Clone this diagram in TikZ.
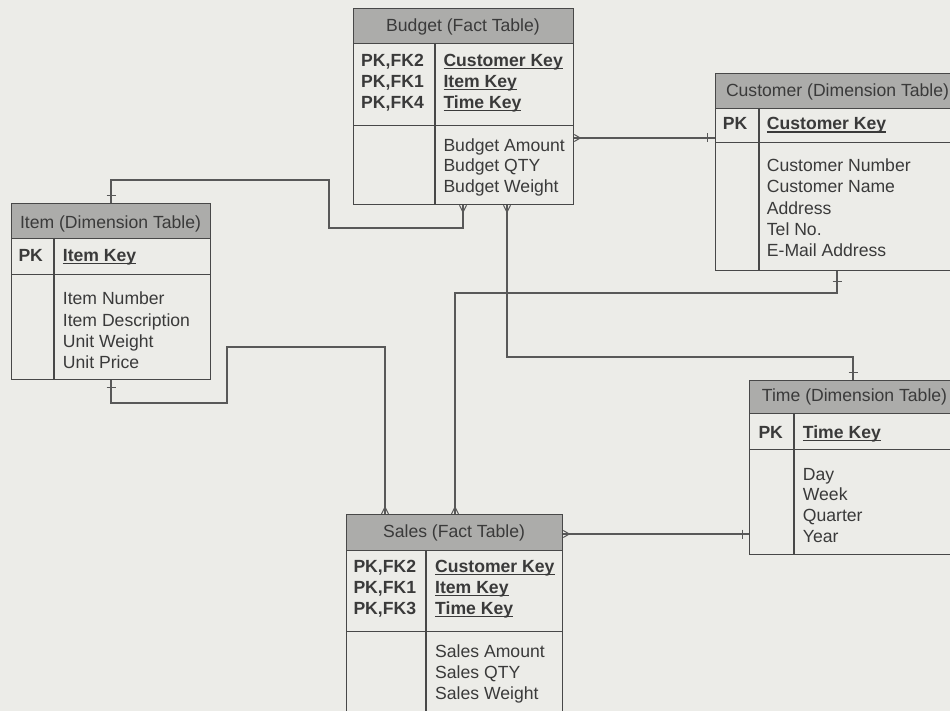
\documentclass[tikz,border=0pt]{standalone}
\usepackage{fontspec}
\setmainfont{Liberation Sans}
\usetikzlibrary{calc}
\definecolor{bgc}{RGB}{236,236,232}
\definecolor{boxc}{RGB}{72,72,72}
\definecolor{conc}{RGB}{88,88,88}
\definecolor{hdrc}{RGB}{172,172,170}
\definecolor{txtc}{RGB}{58,58,58}
\newcommand{\keyul}[1]{\setbox0\hbox{#1}\rlap{\rule[-2.6pt]{\wd0}{1.1pt}}\box0}
\newcommand{\fsz}{\fontsize{17.6pt}{21pt}\selectfont}
\begin{document}
\begin{tikzpicture}[x=1pt,y=-1pt,
  box/.style={draw=boxc, line width=1.3pt, anchor=north west, inner sep=0pt},
  hdr/.style={box, fill=hdrc},
  divline/.style={draw=boxc, line width=1.3pt},
  t/.style={anchor=base west, inner sep=0pt, text=txtc, font=\fsz},
  tb/.style={t, font=\fsz\bfseries},
  th/.style={anchor=base, inner sep=0pt, text=txtc, font=\fsz},
  conn/.style={draw=conc, line width=1.1pt},
  endmk/.style={draw=conc, line width=1pt}
]
\useasboundingbox (0,0) rectangle (950,711);
\fill[bgc] (0,0) rectangle (950,711);
\clip (0,0) rectangle (950,711);

% ---------- Budget ----------
\node[hdr, minimum width=220pt, minimum height=35pt] (bud-h) at (353,8) {};
\node[box, minimum width=220pt, minimum height=82pt] (bud-k) at (353,43) {};
\node[box, minimum width=220pt, minimum height=79pt] (bud-a) at (353,125) {};
\draw[divline] (435,43) -- (435,204);
\node[th] (bud-ht) at (463,31.5) {Budget (Fact Table)};
\node[tb] (bud-p1) at (361,66.7) {PK,FK2};
\node[tb] (bud-p2) at (361,87.7) {PK,FK1};
\node[tb] (bud-p3) at (361,108.3) {PK,FK4};
\node[tb] (bud-k1) at (443.3,66.7) {\keyul{Customer Key}};
\node[tb] (bud-k2) at (443.3,87.7) {\keyul{Item Key}};
\node[tb] (bud-k3) at (443.3,108.3) {\keyul{Time Key}};
\node[t] (bud-a1) at (443.3,151.7) {Budget Amount};
\node[t] (bud-a2) at (443.3,172) {Budget QTY};
\node[t] (bud-a3) at (443.3,192.5) {Budget Weight};

% ---------- Customer ----------
\node[hdr, minimum width=245pt, minimum height=35pt] (cus-h) at (715,73) {};
\node[box, minimum width=245pt, minimum height=34pt] (cus-p) at (715,108) {};
\node[box, minimum width=245pt, minimum height=128pt] (cus-a) at (715,142) {};
\draw[divline] (759,108) -- (759,270);
\node[th] (cus-ht) at (837.5,96.7) {Customer (Dimension Table)};
\node[tb] (cus-pk) at (722.7,130) {PK};
\node[tb] (cus-k1) at (766.7,130) {\keyul{Customer Key}};
\node[t] (cus-a1) at (766.7,171.7) {Customer Number};
\node[t] (cus-a2) at (766.7,193) {Customer Name};
\node[t] (cus-a3) at (766.7,214.3) {Address};
\node[t] (cus-a4) at (766.7,235.6) {Tel No.};
\node[t] (cus-a5) at (766.7,256.9) {E-Mail Address};

% ---------- Item ----------
\node[hdr, minimum width=199pt, minimum height=35pt] (itm-h) at (11,203) {};
\node[box, minimum width=199pt, minimum height=36pt] (itm-p) at (11,238) {};
\node[box, minimum width=199pt, minimum height=105pt] (itm-a) at (11,274) {};
\draw[divline] (54,238) -- (54,379);
\node[th] (itm-ht) at (110.5,228.3) {Item (Dimension Table)};
\node[tb] (itm-pk) at (18.3,261.7) {PK};
\node[tb] (itm-k1) at (62.7,261.7) {\keyul{Item Key}};
\node[t] (itm-a1) at (62.7,305) {Item Number};
\node[t] (itm-a2) at (62.7,326) {Item Description};
\node[t] (itm-a3) at (62.7,347) {Unit Weight};
\node[t] (itm-a4) at (62.7,368) {Unit Price};

% ---------- Time ----------
\node[hdr, minimum width=211pt, minimum height=33pt] (tim-h) at (749,380) {};
\node[box, minimum width=211pt, minimum height=36pt] (tim-p) at (749,413) {};
\node[box, minimum width=211pt, minimum height=105pt] (tim-a) at (749,449) {};
\draw[divline] (794,413) -- (794,554);
\node[th] (tim-ht) at (854.5,401.7) {Time (Dimension Table)};
\node[tb] (tim-pk) at (758.3,438.3) {PK};
\node[tb] (tim-k1) at (802.7,438.3) {\keyul{Time Key}};
\node[t] (tim-a1) at (802.7,480) {Day};
\node[t] (tim-a2) at (802.7,500.7) {Week};
\node[t] (tim-a3) at (802.7,521.3) {Quarter};
\node[t] (tim-a4) at (802.7,542) {Year};

% ---------- Sales ----------
\node[hdr, minimum width=216pt, minimum height=36pt] (sal-h) at (346,514) {};
\node[box, minimum width=216pt, minimum height=81pt] (sal-k) at (346,550) {};
\node[box, minimum width=216pt, minimum height=100pt] (sal-a) at (346,631) {};
\draw[divline] (426,550) -- (426,731);
\node[th] (sal-ht) at (454,537.3) {Sales (Fact Table)};
\node[tb] (sal-p1) at (353.3,572.7) {PK,FK2};
\node[tb] (sal-p2) at (353.3,593.3) {PK,FK1};
\node[tb] (sal-p3) at (353.3,614) {PK,FK3};
\node[tb] (sal-k1) at (435,572.7) {\keyul{Customer Key}};
\node[tb] (sal-k2) at (435,593.3) {\keyul{Item Key}};
\node[tb] (sal-k3) at (435,614) {\keyul{Time Key}};
\node[t] (sal-a1) at (435,657.3) {Sales Amount};
\node[t] (sal-a2) at (435,678.3) {Sales QTY};
\node[t] (sal-a3) at (435,699) {Sales Weight};

% ---------- Connectors ----------
% Budget -> Customer
\coordinate (c1a) at ($(bud-a.north east)+(0,13)$);
\draw[conn] (c1a) -- (c1a -| cus-p.west);
% Budget -> Item
\coordinate (c2a) at ($(bud-a.south west)+(110,0)$);
\coordinate (c2b) at ($(itm-h.north west)+(100,0)$);
\draw[conn] (c2a) |- (329,228) |- (c2b |- 0,180) -- (c2b);
% Budget -> Time
\coordinate (c3a) at ($(bud-a.south west)+(154,0)$);
\coordinate (c3b) at ($(tim-h.north west)+(104,0)$);
\draw[conn] (c3a) |- (c3b |- 0,357) -- (c3b);
% Sales -> Customer
\coordinate (c4a) at ($(sal-h.north west)+(109,0)$);
\coordinate (c4b) at ($(cus-a.south west)+(122,0)$);
\draw[conn] (c4a) |- (c4b |- 0,293) -- (c4b);
% Sales -> Item
\coordinate (c5a) at ($(sal-h.north west)+(39,0)$);
\coordinate (c5b) at ($(itm-a.south west)+(100,0)$);
\draw[conn] (c5a) |- (227,347) |- (c5b |- 0,403) -- (c5b);
% Sales -> Time
\coordinate (c6a) at ($(sal-h.north east)+(0,20)$);
\draw[conn] (c6a) -- (c6a -| tim-a.west);

% ---------- End marks ----------
\draw[endmk] ($(c1a -| cus-p.west)+(-8,-4.5)$) -- ++(0,9);
\draw[endmk] ($(c2b)+(-4.5,-7)$) -- ++(9,0);
\draw[endmk] ($(c3b)+(-4.5,-8)$) -- ++(9,0);
\draw[endmk] ($(c4b)+(-4.5,10)$) -- ++(9,0);
\draw[endmk] ($(c5b)+(-4.5,7)$) -- ++(9,0);
\draw[endmk] ($(c6a -| tim-a.west)+(-7,-4.5)$) -- ++(0,9);
\draw[endmk] ($(c1a)+(6,0)$) -- ++(-6,-3.5) ($(c1a)+(6,0)$) -- ++(-6,3.5);
\draw[endmk] ($(c6a)+(6,0)$) -- ++(-6,-3.5) ($(c6a)+(6,0)$) -- ++(-6,3.5);
\draw[endmk] ($(c2a)+(0,7)$) -- ++(-3.5,-7) ($(c2a)+(0,7)$) -- ++(3.5,-7);
\draw[endmk] ($(c3a)+(0,7)$) -- ++(-3.5,-7) ($(c3a)+(0,7)$) -- ++(3.5,-7);
\draw[endmk] ($(c4a)+(0,-7)$) -- ++(-3.5,7) ($(c4a)+(0,-7)$) -- ++(3.5,7);
\draw[endmk] ($(c5a)+(0,-7)$) -- ++(-3.5,7) ($(c5a)+(0,-7)$) -- ++(3.5,7);
\end{tikzpicture}
\end{document}
